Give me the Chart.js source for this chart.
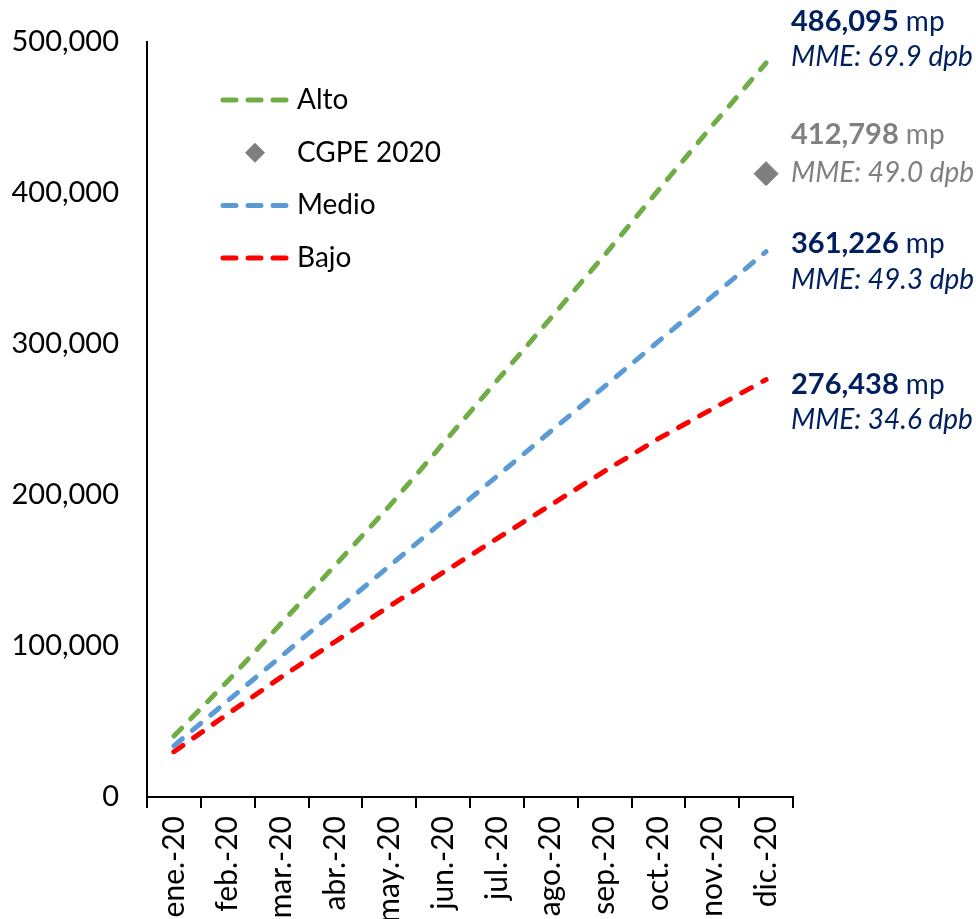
<!DOCTYPE html>
<html>
<head>
<meta charset="utf-8">
<script src="https://cdn.jsdelivr.net/npm/chart.js@4/dist/chart.umd.min.js"></script>
<style>
  html, body { margin: 0; padding: 0; background: #fff; overflow: hidden; }
  #wrap { position: relative; width: 976px; height: 919px; }
</style>
</head>
<body>
<div id="wrap"><canvas id="c"></canvas></div>
<script>
const categories = ['ene.-20','feb.-20','mar.-20','abr.-20','may.-20','jun.-20','jul.-20','ago.-20','sep.-20','oct.-20','nov.-20','dic.-20'];
const alto  = [40400, 76800, 115300, 153600, 192600, 234100, 275700, 317200, 358900, 401900, 444600, 486095];
const cgpe  = [null, null, null, null, null, null, null, null, null, null, null, 412798];
const medio = [33900, 63700, 93400, 123200, 152900, 182700, 212400, 242200, 271900, 301700, 331500, 361226];
const bajo  = [30000, 55000, 79600, 103000, 126300, 148700, 171100, 193400, 215800, 237300, 257000, 276438];
const yTicks = [0, 100000, 200000, 300000, 400000, 500000];

const NAVY = '#002060';
const GRAY = '#808080';
const FONT = 'Lato, "Open Sans", sans-serif';

const endLabels = [
  { ds: 0, num: '486,095', mme: 'MME: 69.9 dpb', color: NAVY, dy1: -41, dy2: -6 },
  { ds: 1, num: '412,798', mme: 'MME: 49.0 dpb', color: GRAY, dy1: -39, dy2: -1 },
  { ds: 2, num: '361,226', mme: 'MME: 49.3 dpb', color: NAVY, dy1: -8, dy2: 28 },
  { ds: 3, num: '276,438', mme: 'MME: 34.6 dpb', color: NAVY, dy1: 5, dy2: 40 }
];

const overlay = {
  id: 'overlay',
  afterDraw(chart) {
    const ctx = chart.ctx;
    const ca = chart.chartArea;
    const y = chart.scales.y;
    ctx.save();
    // legend
    const lx = ca.left + 73, ly = ca.top + 58, rowH = 52.7;
    chart.data.datasets.forEach((ds, i) => {
      const cy = ly + i * rowH;
      if (ds.showLine === false) {
        ctx.fillStyle = ds.pointBackgroundColor;
        ctx.beginPath();
        const r = 10;
        const cx = lx + 35;
        ctx.moveTo(cx, cy - r); ctx.lineTo(cx + r, cy); ctx.lineTo(cx, cy + r); ctx.lineTo(cx - r, cy); ctx.closePath();
        ctx.fill();
      } else {
        ctx.strokeStyle = ds.borderColor;
        ctx.lineWidth = 5;
        ctx.lineCap = 'round';
        ctx.setLineDash([13, 12]);
        ctx.beginPath();
        ctx.moveTo(lx + 3, cy); ctx.lineTo(lx + 66, cy);
        ctx.stroke();
        ctx.setLineDash([]);
      }
      ctx.fillStyle = '#000';
      ctx.font = '28px ' + FONT;
      ctx.textBaseline = 'middle';
      ctx.textAlign = 'left';
      ctx.fillText(ds.label, lx + 77, cy);
    });
    // end labels
    const tx = ca.right - 2;
    endLabels.forEach(l => {
      const d = chart.data.datasets[l.ds].data;
      const py = y.getPixelForValue(d[d.length - 1]);
      ctx.fillStyle = l.color;
      ctx.textBaseline = 'middle';
      ctx.font = 'bold 29px ' + FONT;
      ctx.fillText(l.num, tx, py + l.dy1);
      const w = ctx.measureText(l.num).width;
      ctx.font = '28px ' + FONT;
      ctx.fillText(' mp', tx + w, py + l.dy1);
      ctx.font = 'italic 28px ' + FONT;
      ctx.fillText(l.mme, tx, py + l.dy2);
    });
    ctx.restore();
  }
};

const dashed = (label, data, color) => ({
  label, data, borderColor: color, backgroundColor: color,
  borderWidth: 5, borderDash: [11, 13], borderCapStyle: 'round',
  pointRadius: 0, fill: false, tension: 0
});

new Chart(document.getElementById('c'), {
  type: 'line',
  data: {
    labels: categories,
    datasets: [
      dashed('Alto', alto, '#70AD47'),
      { label: 'CGPE 2020', data: cgpe, showLine: false, pointStyle: 'rectRot',
        pointRadius: 12, pointHoverRadius: 12, pointBackgroundColor: '#7F7F7F',
        pointBorderColor: '#7F7F7F', backgroundColor: '#7F7F7F', borderColor: '#7F7F7F' },
      dashed('Medio', medio, '#5B9BD5'),
      dashed('Bajo', bajo, '#FF0000')
    ]
  },
  options: {
    responsive: true,
    maintainAspectRatio: false,
    animation: false,
    layout: { padding: { left: 12, right: 183, top: 42, bottom: 0 } },
    plugins: { legend: { display: false }, tooltip: { enabled: false } },
    scales: {
      x: {
        offset: true,
        afterFit: (axis) => { axis.height = 122; axis.paddingTop = 0; axis.paddingBottom = 0; },
        grid: { display: true, offset: true, drawOnChartArea: false, drawTicks: true, tickLength: 11, color: '#000', lineWidth: 2 },
        border: { display: true, color: '#000', width: 2 },
        ticks: { minRotation: 90, maxRotation: 90, padding: 8, color: '#000', font: { family: FONT, size: 30 } }
      },
      y: {
        min: 0, max: 500000,
        afterFit: (axis) => { axis.width = 135; axis.paddingTop = 0; axis.paddingBottom = 0; },
        afterBuildTicks: (axis) => { axis.ticks = yTicks.map(v => ({ value: v })); },
        grid: { display: false, drawTicks: false },
        border: { display: true, color: '#000', width: 2 },
        ticks: { padding: 28, color: '#000', font: { family: FONT, size: 29 },
          callback: (v) => v.toLocaleString('en-US') }
      }
    }
  },
  plugins: [overlay]
});
</script>
</body>
</html>
